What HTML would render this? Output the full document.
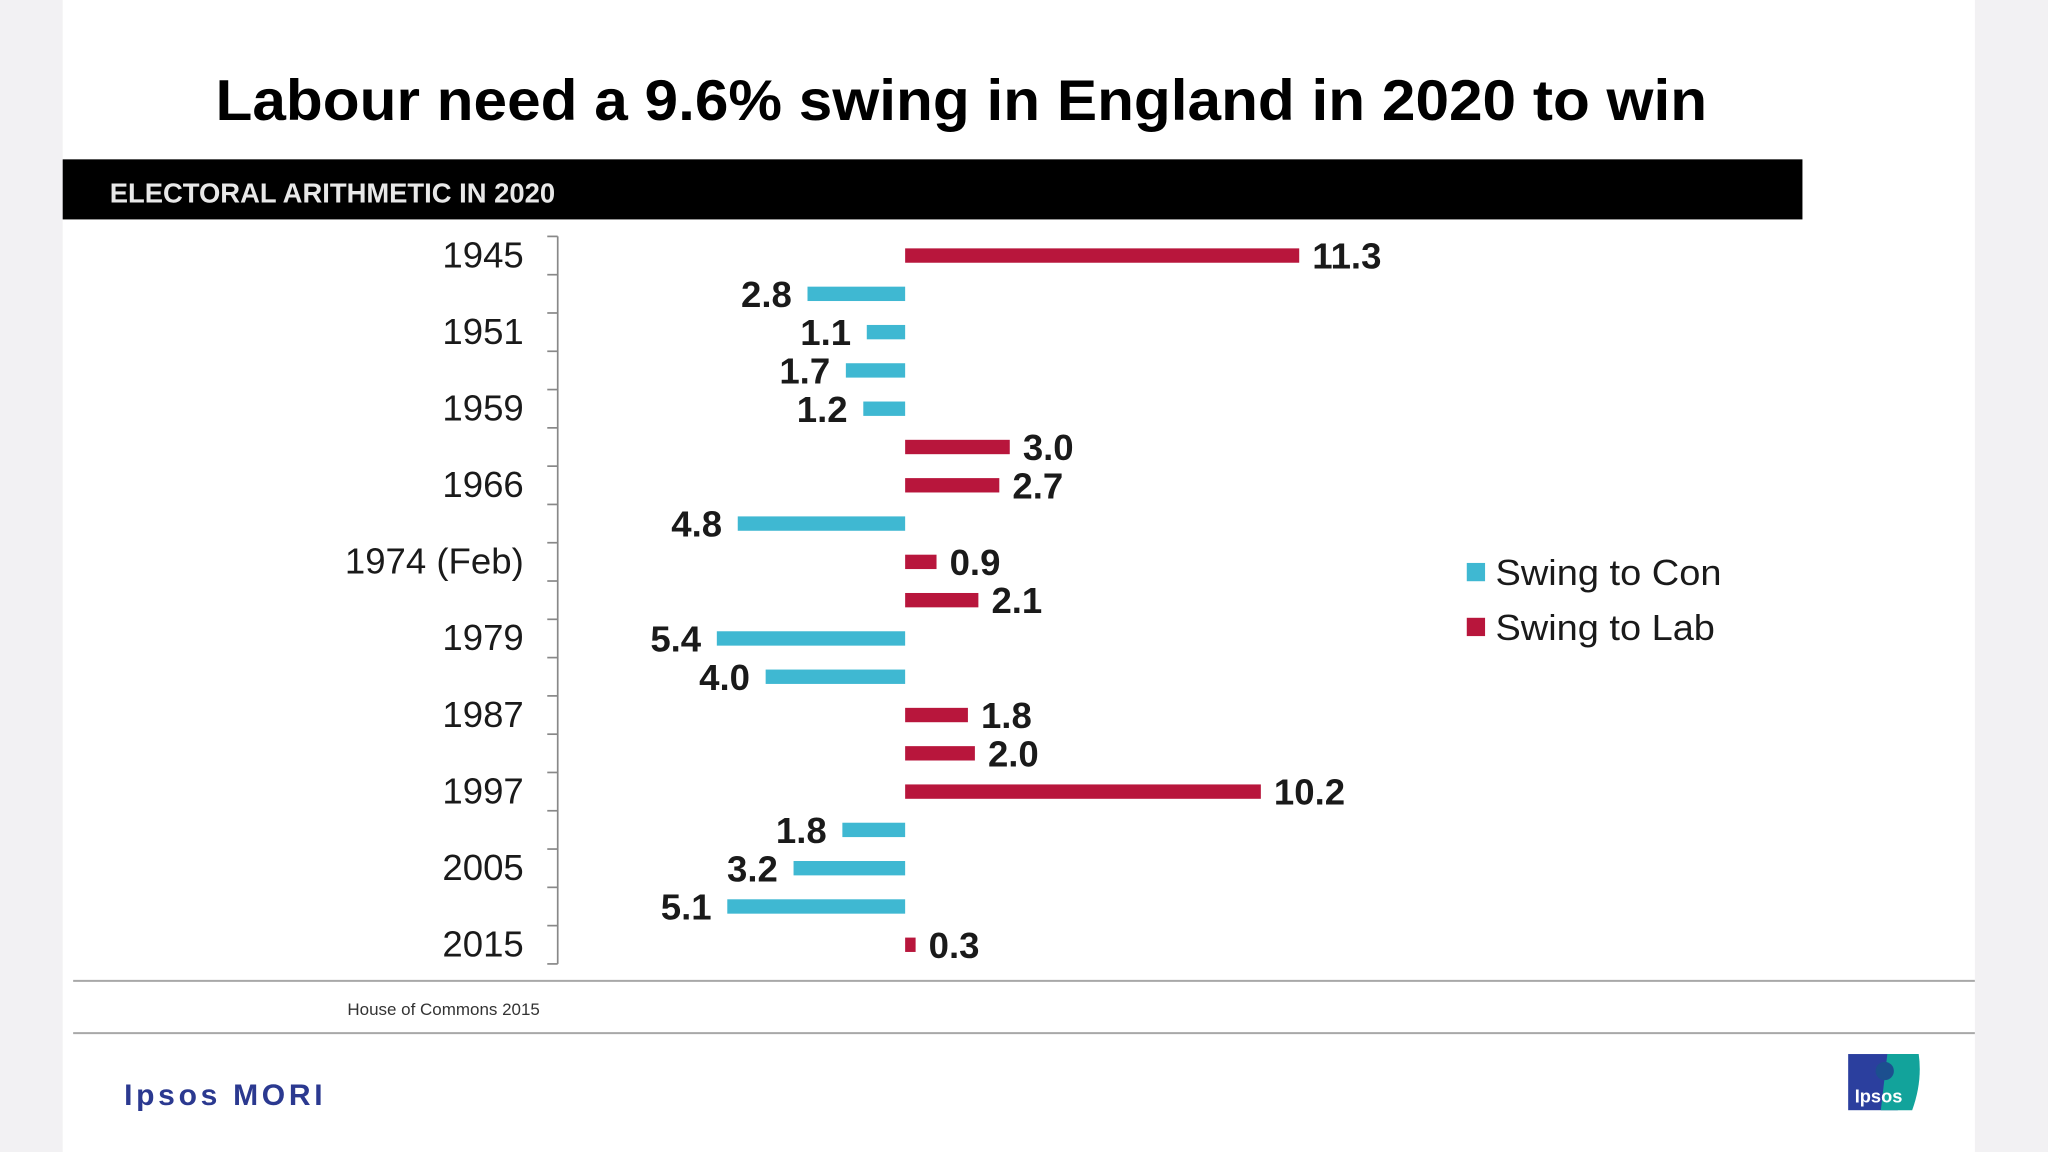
<!DOCTYPE html>
<html><head><meta charset="utf-8"><style>
html,body{margin:0;padding:0;background:#f2f1f3;}
svg{display:block;font-family:"Liberation Sans",sans-serif;}
</style></head><body>
<svg width="2048" height="1152" viewBox="0 0 1568 882">
<rect x="0" y="0" width="1568" height="882" fill="#f2f1f3"/>
<rect x="48" y="0" width="1464" height="882" fill="#ffffff"/>
<text x="165" y="92" font-size="44" font-weight="bold" fill="#000" textLength="1142" lengthAdjust="spacingAndGlyphs">Labour need a 9.6% swing in England in  2020 to win</text>
<rect x="48" y="122" width="1332" height="46" fill="#000"/>
<text x="84" y="155" font-size="21" font-weight="bold" fill="#e8e8e8" textLength="341" lengthAdjust="spacingAndGlyphs">ELECTORAL ARITHMETIC IN 2020</text>
<g id="chart"></g>
<g>
<rect x="1123" y="431" width="14" height="14" fill="#3fb8d2"/>
<text x="1145" y="448" font-size="28" fill="#1a1a1a" textLength="173" lengthAdjust="spacingAndGlyphs">Swing to Con</text>
<rect x="1123" y="473" width="14" height="14" fill="#b8163c"/>
<text x="1145" y="490" font-size="28" fill="#1a1a1a" textLength="168" lengthAdjust="spacingAndGlyphs">Swing to Lab</text>
</g>
<line x1="56" y1="751" x2="1512" y2="751" stroke="#a8a8a8" stroke-width="1.5"/>
<text x="266" y="777" font-size="13" fill="#333">House of Commons 2015</text>
<line x1="56" y1="791" x2="1512" y2="791" stroke="#a8a8a8" stroke-width="1.5"/>
<text x="95" y="846" font-size="23" font-weight="bold" fill="#2b3990" textLength="152" lengthAdjust="spacing">Ipsos MORI</text>
<g>
<rect x="1415" y="807" width="38" height="43" fill="#2b3f9e"/>
<path d="M1445 807 L1469 807 Q1472 828 1464 850 L1440 850 Z" fill="#12a39b"/>
<circle cx="1443" cy="820" r="7" fill="#1c4f8f"/>
<text x="1420" y="844" font-size="14" font-weight="bold" fill="#fff">Ipsos</text>
</g>
</svg>
<script>
const years = ["1945","1950","1951","1955","1959","1964","1966","1970","1974 (Feb)","1974 (Oct)","1979","1983","1987","1992","1997","2001","2005","2010","2015"];
const values = [11.3,2.8,1.1,1.7,1.2,3.0,2.7,4.8,0.9,2.1,5.4,4.0,1.8,2.0,10.2,1.8,3.2,5.1,0.3];
const series = ["lab","con","con","con","con","lab","lab","con","lab","lab","con","con","lab","lab","lab","con","con","con","lab"];
const shownYears = ["1945","1951","1959","1966","1974 (Feb)","1979","1987","1997","2005","2015"];

const NS = "http://www.w3.org/2000/svg";
const g = document.getElementById("chart");
const x0 = 693, unit = 26.7;
const xScale = v => unit * v;
const top0 = 181, step = (738 - 181) / years.length;
const yScale = i => top0 + step * (i + 0.5);
function mk(tag, attrs){const e=document.createElementNS(NS,tag);for(const k in attrs)e.setAttribute(k,attrs[k]);g.appendChild(e);return e;}

const axis = mk("line",{x1:427,y1:top0,x2:427,y2:738,stroke:"#888","stroke-width":1.3});


for (let i = 0; i <= years.length; i++) {
  const y = top0 + step * i;
  const t = mk("line",{x1:419,y1:y,x2:427,y2:y,stroke:"#888","stroke-width":1.3});
  
  
}
years.forEach((yr, i) => {
  const y = yScale(i);
  if (shownYears.includes(yr)) {
    const lt = mk("text",{x:401,y:y+9,"font-size":28,"text-anchor":"end",fill:"#1a1a1a"});
    lt.textContent = yr;
    
    
  }
  const v = values[i], w = xScale(v), isLab = series[i] === "lab";
  const bx = isLab ? x0 : x0 - w;
  const r = mk("rect",{x:bx,y:y-5.5,width:w,height:11,fill:isLab?"#b8163c":"#3fb8d2"});
  
  
  const lab = mk("text",{x:isLab ? x0 + w + 10 : x0 - w - 12,y:y+10,"font-size":28,"font-weight":"bold","text-anchor":isLab?"start":"end",fill:"#1a1a1a"});
  lab.textContent = v.toFixed(1);
  
  
});
</script>
</body></html>
